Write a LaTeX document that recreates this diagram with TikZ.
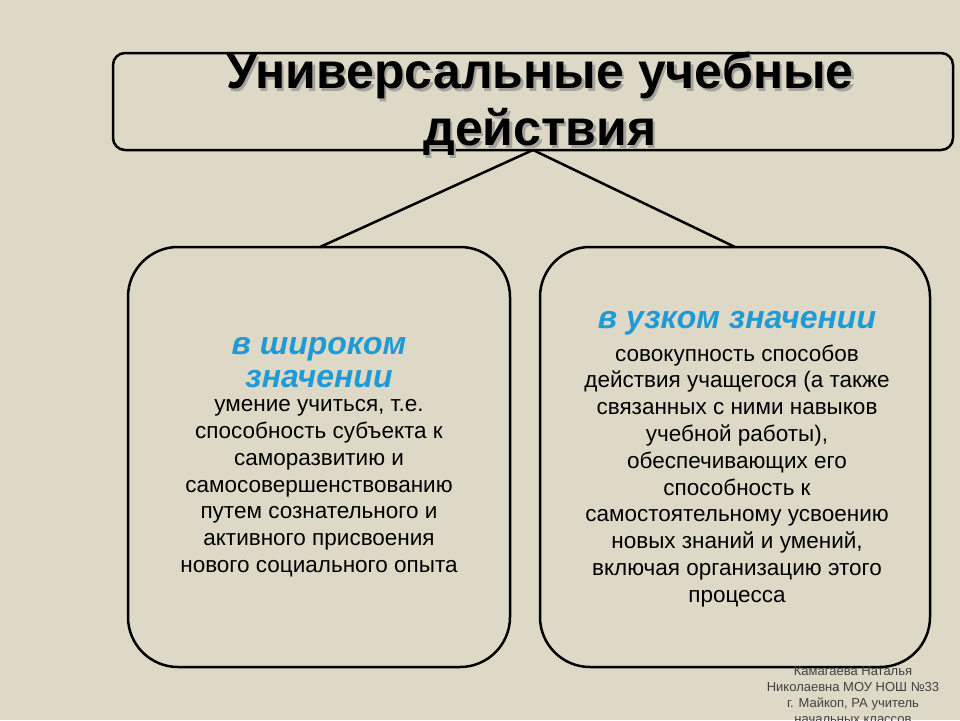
\documentclass[tikz,border=0pt]{standalone}
\usepackage{fontspec}
\setmainfont{Liberation Sans}
\definecolor{bg}{HTML}{DDD9C6}
\definecolor{blu}{HTML}{1E9AD6}
\begin{document}
\begin{tikzpicture}[x=1pt,y=-1pt,
  box/.style={draw=black,line width=2.5pt,rounded corners=50pt,fill=bg},
  body/.style={align=center,font=\fontsize{22.5}{26.8}\selectfont}]
\fill[bg] (0,0) rectangle (960,720);
\useasboundingbox (0,0) rectangle (960,720);
\node[draw=black,line width=2.5pt,rounded corners=12pt,minimum width=840pt,minimum height=97pt] (title) at (533,101.5) {};
\coordinate (tb) at (533,150);
\node[box,minimum width=382pt,minimum height=420pt] (L) at (319,457) {};
\node[box,minimum width=390pt,minimum height=420pt] (R) at (735,457) {};
\draw[line width=2.5pt] (tb) -- (320,247);
\draw[line width=2.5pt] (tb) -- (735,247);
\node[align=center,font=\bfseries\fontsize{50}{57}\selectfont,text=gray!60!bg] at (542.5,106.5) {Универсальные учебные\\действия};
\node[align=center,font=\bfseries\fontsize{50}{57}\selectfont] (tt) at (540,104) {Универсальные учебные\\действия};
\node[align=center,font=\bfseries\itshape\fontsize{32}{33}\selectfont,text=blu] (lh) at (319,363) {в широком\\значении};
\node[body,anchor=north] (lb) at (319,396) {умение учиться, т.е.\\способность субъекта к\\саморазвитию и\\самосовершенствованию\\путем сознательного и\\активного присвоения\\нового социального опыта};
\node[font=\bfseries\itshape\fontsize{32}{33}\selectfont,text=blu] (rh) at (737,323) {в узком значении};
\node[body,anchor=north] (rb) at (737,341) {совокупность способов\\действия учащегося (а также\\связанных с ними навыков\\учебной работы),\\обеспечивающих его\\способность к\\самостоятельному усвоению\\новых знаний и умений,\\включая организацию этого\\процесса};
\begin{scope}
\clip (0,0) rectangle (960,720);
\node[align=center,font=\fontsize{13}{16}\selectfont,text=black!75,anchor=north] (au) at (853,663) {Камагаева Наталья\\Николаевна МОУ НОШ №33\\г. Майкоп, РА учитель\\начальных классов};
\end{scope}
\end{tikzpicture}
\end{document}
